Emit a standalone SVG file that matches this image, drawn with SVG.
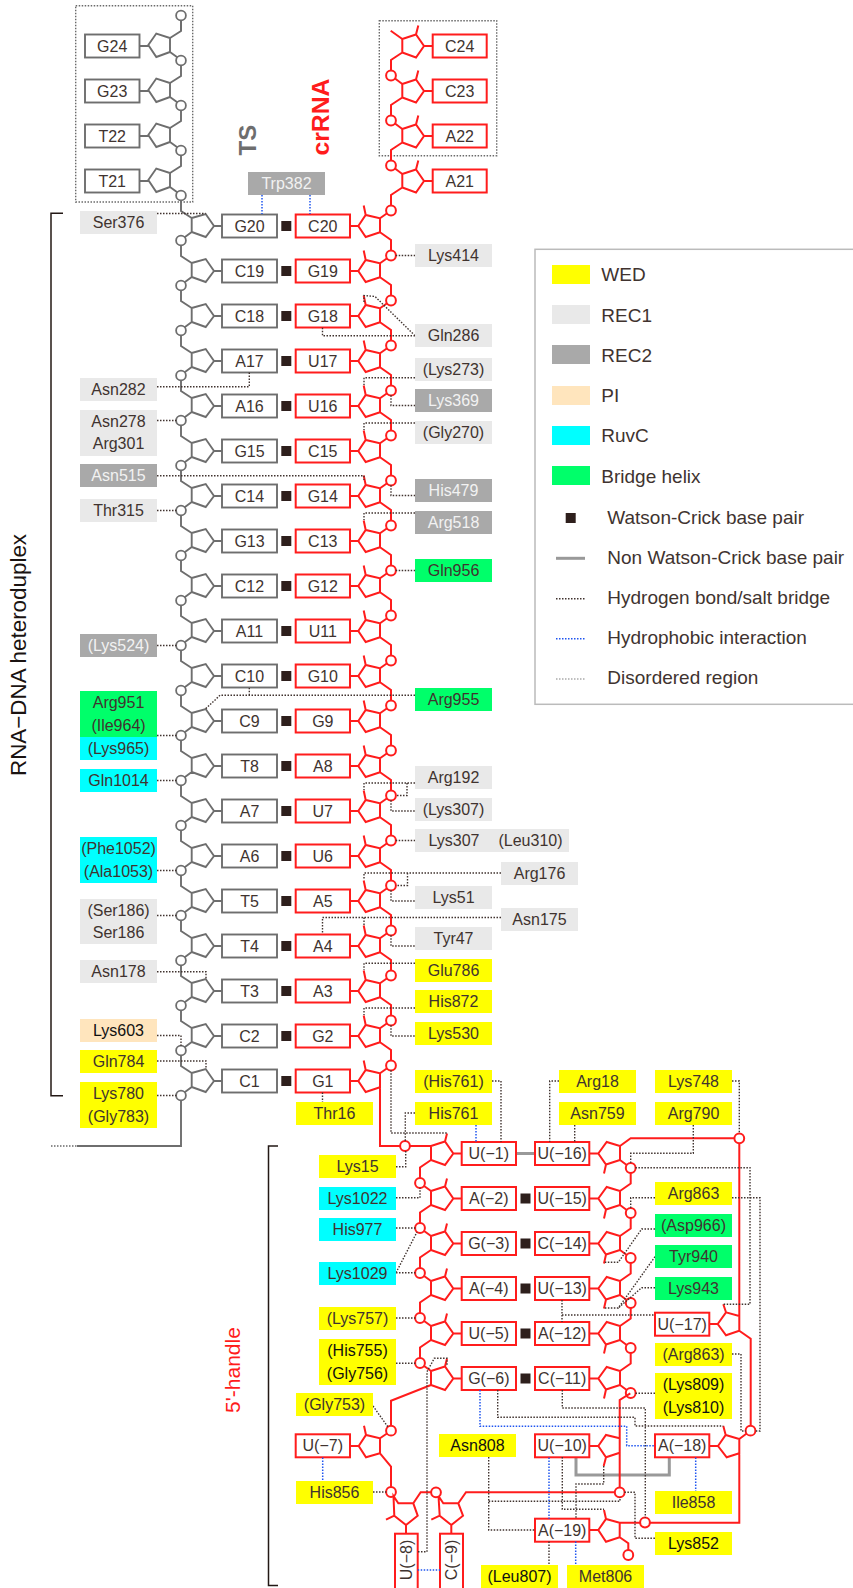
<svg xmlns="http://www.w3.org/2000/svg" width="853" height="1588" viewBox="0 0 853 1588">
<style>
text{font-family:"Liberation Sans",Arial,sans-serif;font-size:16px;fill:#40332f;text-anchor:middle}
.w{fill:#f2f2f2}.k{fill:#111}
.leg{font-size:19px;text-anchor:start}
.g{fill:none;stroke:#6e6e6e;stroke-width:1.9}
.gb{fill:#fff;stroke:#6e6e6e;stroke-width:1.9}
.gc{fill:#fff;stroke:#6e6e6e;stroke-width:1.8;r:4.9px}
.r{fill:none;stroke:#ff1c1c;stroke-width:2}
.rb{fill:#fff;stroke:#ff1c1c;stroke-width:2}
.rc{fill:#fff;stroke:#ff1c1c;stroke-width:2;r:4.9px}
.hb{fill:none;stroke:#40332f;stroke-width:1.4;stroke-dasharray:1.5 1.5}
.hp{fill:none;stroke:#1f55f0;stroke-width:1.5;stroke-dasharray:1.5 1.5}
.dis{fill:none;stroke:#6a6a6a;stroke-width:1.4;stroke-dasharray:1.5 1.5}
.nw{fill:none;stroke:#999;stroke-width:3}
.y{fill:#ffff00}.l{fill:#e9e9e9}.d{fill:#a9a9a9}.p{fill:#ffe5bd}.c{fill:#00ffff}.n{fill:#00ff6a}
</style>
<defs>
<rect id="wc" x="-5" y="-5" width="10" height="10" fill="#2e1f1c"/>
<g id="tsU"><path class="g" d="M214 0H222M191.7 -8L205.7 -12L214 0L205.7 11L191.7 6ZM191.7 -8L181 -15V-25.8M191.7 6L181 14"/><circle class="gc" cx="181" cy="14.5" r="4.7"/><rect class="gb" x="222" y="-11.5" width="55" height="23"/></g>
<g id="tsD"><path class="g" d="M139.5 0H148.3M148.3 -1L156.3 -12.5L170 -8V6L156.3 11ZM170 -8L181 -15V-25.8M170 6L181 14"/><circle class="gc" cx="181" cy="14.5" r="4.7"/><rect class="gb" x="85" y="-11.5" width="54.5" height="23"/></g>
<g id="crD"><path class="r" d="M424 0H432.7M402.3 -7L416 -11.5L424 0L416 11.5L402.3 6.5ZM416 -11.5L418.3 -20.5M402.3 6.5L391 14V25.3"/><rect class="rb" x="432.7" y="-11.5" width="54" height="23"/></g>
<g id="crU"><path class="r" d="M350 0H358.3M358.3 0L365.7 -11L380 -7.7V6.3L365.7 11ZM365.7 -11L363.7 -20.5M380 -7.7L391 -15.5M380 6.3L391 14V25"/><circle class="rc" cx="391" cy="-15.5" r="4.7"/><rect class="rb" x="295.7" y="-11.5" width="54.3" height="23"/></g>
<g id="h5"><path class="r" d="M453.3 0H461.7M431 -7.5L445 -12L453.3 0L445 11.5L431 6.5ZM445 -12L447 -20"/><rect class="rb" x="461.7" y="-11.5" width="54.3" height="23"/></g>
<g id="h5c"><use href="#h5"/><path class="r" d="M431 -7.5L420 -15.5"/><circle class="rc" cx="420" cy="-15.5" r="4.7"/></g>
<g id="h3"><path class="r" d="M589.3 0H598.3M598.3 0L606.7 -11.5L620 -7.5V6.5L606 11ZM606 11L604 20M620 6.5L630.7 14.5"/><circle class="rc" cx="630.7" cy="14.5" r="4.7"/><rect class="rb" x="535" y="-11.5" width="54.3" height="23"/></g>
</defs>

<g id="frames">
<rect class="dis" x="75.7" y="5.7" width="117" height="196.3"/>
<rect class="dis" x="379.3" y="20.7" width="117.4" height="135"/>
</g>

<g id="ts-strand">
<g id="TS-G24" transform="translate(0 46)"><path class="g" d="M181 -25.8V-15"/><circle class="gc" cx="181" cy="-30.5" r="4.7"/><use href="#tsD"/><text x="112.2" y="5.5">G24</text></g>
<g id="TS-G23" transform="translate(0 91)"><use href="#tsD"/><text x="112.2" y="5.5">G23</text></g>
<g id="TS-T22" transform="translate(0 136)"><use href="#tsD"/><text x="112.2" y="5.5">T22</text></g>
<g id="TS-T21" transform="translate(0 181)"><use href="#tsD"/><text x="112.2" y="5.5">T21</text></g>
<g id="TS-G20" transform="translate(0 226)"><use href="#tsU"/><text x="249.5" y="5.5">G20</text></g>
<g id="TS-C19" transform="translate(0 271)"><use href="#tsU"/><text x="249.5" y="5.5">C19</text></g>
<g id="TS-C18" transform="translate(0 316)"><use href="#tsU"/><text x="249.5" y="5.5">C18</text></g>
<g id="TS-A17" transform="translate(0 361)"><use href="#tsU"/><text x="249.5" y="5.5">A17</text></g>
<g id="TS-A16" transform="translate(0 406)"><use href="#tsU"/><text x="249.5" y="5.5">A16</text></g>
<g id="TS-G15" transform="translate(0 451)"><use href="#tsU"/><text x="249.5" y="5.5">G15</text></g>
<g id="TS-C14" transform="translate(0 496)"><use href="#tsU"/><text x="249.5" y="5.5">C14</text></g>
<g id="TS-G13" transform="translate(0 541)"><use href="#tsU"/><text x="249.5" y="5.5">G13</text></g>
<g id="TS-C12" transform="translate(0 586)"><use href="#tsU"/><text x="249.5" y="5.5">C12</text></g>
<g id="TS-A11" transform="translate(0 631)"><use href="#tsU"/><text x="249.5" y="5.5">A11</text></g>
<g id="TS-C10" transform="translate(0 676)"><use href="#tsU"/><text x="249.5" y="5.5">C10</text></g>
<g id="TS-C9" transform="translate(0 721)"><use href="#tsU"/><text x="249.5" y="5.5">C9</text></g>
<g id="TS-T8" transform="translate(0 766)"><use href="#tsU"/><text x="249.5" y="5.5">T8</text></g>
<g id="TS-A7" transform="translate(0 811)"><use href="#tsU"/><text x="249.5" y="5.5">A7</text></g>
<g id="TS-A6" transform="translate(0 856)"><use href="#tsU"/><text x="249.5" y="5.5">A6</text></g>
<g id="TS-T5" transform="translate(0 901)"><use href="#tsU"/><text x="249.5" y="5.5">T5</text></g>
<g id="TS-T4" transform="translate(0 946)"><use href="#tsU"/><text x="249.5" y="5.5">T4</text></g>
<g id="TS-T3" transform="translate(0 991)"><use href="#tsU"/><text x="249.5" y="5.5">T3</text></g>
<g id="TS-C2" transform="translate(0 1036)"><use href="#tsU"/><text x="249.5" y="5.5">C2</text></g>
<g id="TS-C1" transform="translate(0 1081)"><use href="#tsU"/><text x="249.5" y="5.5">C1</text></g>
<path class="g" d="M181 1100.2V1146H77"/>
</g>

<g id="cr-strand">
<g id="CR-C24" transform="translate(0 46)"><use href="#crD"/><path class="r" d="M402.3 -7L390.7 -15.3"/><text x="459.7" y="5.5">C24</text></g>
<g id="CR-C23" transform="translate(0 91)"><use href="#crD"/><path class="r" d="M402.3 -7L391 -15.5"/><circle class="rc" cx="391" cy="-15.5" r="4.7"/><text x="459.7" y="5.5">C23</text></g>
<g id="CR-A22" transform="translate(0 136)"><use href="#crD"/><path class="r" d="M402.3 -7L391 -15.5"/><circle class="rc" cx="391" cy="-15.5" r="4.7"/><text x="459.7" y="5.5">A22</text></g>
<g id="CR-A21" transform="translate(0 181)"><use href="#crD"/><path class="r" d="M402.3 -7L391 -15.5"/><circle class="rc" cx="391" cy="-15.5" r="4.7"/><text x="459.7" y="5.5">A21</text></g>
<g id="CR-C20" transform="translate(0 226)"><use href="#crU"/><text x="322.8" y="5.5">C20</text></g>
<g id="CR-G19" transform="translate(0 271)"><use href="#crU"/><text x="322.8" y="5.5">G19</text></g>
<g id="CR-G18" transform="translate(0 316)"><use href="#crU"/><text x="322.8" y="5.5">G18</text></g>
<g id="CR-U17" transform="translate(0 361)"><use href="#crU"/><text x="322.8" y="5.5">U17</text></g>
<g id="CR-U16" transform="translate(0 406)"><use href="#crU"/><text x="322.8" y="5.5">U16</text></g>
<g id="CR-C15" transform="translate(0 451)"><use href="#crU"/><text x="322.8" y="5.5">C15</text></g>
<g id="CR-G14" transform="translate(0 496)"><use href="#crU"/><text x="322.8" y="5.5">G14</text></g>
<g id="CR-C13" transform="translate(0 541)"><use href="#crU"/><text x="322.8" y="5.5">C13</text></g>
<g id="CR-G12" transform="translate(0 586)"><use href="#crU"/><text x="322.8" y="5.5">G12</text></g>
<g id="CR-U11" transform="translate(0 631)"><use href="#crU"/><text x="322.8" y="5.5">U11</text></g>
<g id="CR-G10" transform="translate(0 676)"><use href="#crU"/><text x="322.8" y="5.5">G10</text></g>
<g id="CR-G9" transform="translate(0 721)"><use href="#crU"/><text x="322.8" y="5.5">G9</text></g>
<g id="CR-A8" transform="translate(0 766)"><use href="#crU"/><text x="322.8" y="5.5">A8</text></g>
<g id="CR-U7" transform="translate(0 811)"><use href="#crU"/><text x="322.8" y="5.5">U7</text></g>
<g id="CR-U6" transform="translate(0 856)"><use href="#crU"/><text x="322.8" y="5.5">U6</text></g>
<g id="CR-A5" transform="translate(0 901)"><use href="#crU"/><text x="322.8" y="5.5">A5</text></g>
<g id="CR-A4" transform="translate(0 946)"><use href="#crU"/><text x="322.8" y="5.5">A4</text></g>
<g id="CR-A3" transform="translate(0 991)"><use href="#crU"/><text x="322.8" y="5.5">A3</text></g>
<g id="CR-G2" transform="translate(0 1036)"><use href="#crU"/><text x="322.8" y="5.5">G2</text></g>
<g id="CR-G1" transform="translate(0 1081)">
<path class="r" d="M350 0H358.3M358.3 0L365.7 -11L380 -7.7V6.3L365.7 11ZM365.7 -11L363.7 -20.5M380 -7.7L391 -15.5M380 6.3V65H431"/><circle class="rc" cx="391" cy="-15.5" r="4.7"/><rect class="rb" x="295.7" y="-11.5" width="54.3" height="23"/><text x="322.8" y="5.5">G1</text></g>
</g>

<g id="pairs">
<use href="#wc" x="286.3" y="226"/><use href="#wc" x="286.3" y="271"/><use href="#wc" x="286.3" y="316"/><use href="#wc" x="286.3" y="361"/><use href="#wc" x="286.3" y="406"/><use href="#wc" x="286.3" y="451"/><use href="#wc" x="286.3" y="496"/><use href="#wc" x="286.3" y="541"/><use href="#wc" x="286.3" y="586"/><use href="#wc" x="286.3" y="631"/><use href="#wc" x="286.3" y="676"/><use href="#wc" x="286.3" y="721"/><use href="#wc" x="286.3" y="766"/><use href="#wc" x="286.3" y="811"/><use href="#wc" x="286.3" y="856"/><use href="#wc" x="286.3" y="901"/><use href="#wc" x="286.3" y="946"/><use href="#wc" x="286.3" y="991"/><use href="#wc" x="286.3" y="1036"/><use href="#wc" x="286.3" y="1081"/>
<use href="#wc" x="525.5" y="1198.5"/><use href="#wc" x="525.5" y="1243.5"/><use href="#wc" x="525.5" y="1288.5"/><use href="#wc" x="525.5" y="1333.5"/><use href="#wc" x="525.5" y="1378.5"/>
<path class="nw" d="M516 1153.5H535"/>
<path class="nw" d="M576 1457.5V1475H669.3V1457.5"/>
</g>

<g id="handle">
<g id="H-U1" transform="translate(0 1153.5)"><use href="#h5"/><path class="r" d="M431 6.5L420 14V24.8"/><text x="488.8" y="5.5">U(−1)</text></g>
<circle class="rc" cx="405" cy="1146" r="4.7"/>
<g id="H-A2" transform="translate(0 1198.5)"><use href="#h5c"/><path class="r" d="M431 6.5L420 14V24.8"/><text x="488.8" y="5.5">A(−2)</text></g>
<g id="H-G3" transform="translate(0 1243.5)"><use href="#h5c"/><path class="r" d="M431 6.5L420 14V24.8"/><text x="488.8" y="5.5">G(−3)</text></g>
<g id="H-A4" transform="translate(0 1288.5)"><use href="#h5c"/><path class="r" d="M431 6.5L420 14V24.8"/><text x="488.8" y="5.5">A(−4)</text></g>
<g id="H-U5" transform="translate(0 1333.5)"><use href="#h5c"/><path class="r" d="M431 6.5L420 14V24.8"/><text x="488.8" y="5.5">U(−5)</text></g>
<g id="H-G6" transform="translate(0 1378.5)"><use href="#h5c"/><path class="r" d="M431 6.5L391 22.2V47.5"/><text x="488.8" y="5.5">G(−6)</text></g>
<g id="H-U7">
<path class="r" d="M350 1446H358.7M358.7 1446L366 1435L380 1438.3V1453.3L366 1457.3ZM366 1435L364 1425.7M380 1438.3L391 1430.7M380 1453.3L391 1466.7V1487.3"/>
<circle class="rc" cx="391" cy="1430.7" r="4.7"/><circle class="rc" cx="391" cy="1492" r="4.7"/>
<rect class="rb" x="295.7" y="1434.3" width="54.3" height="23"/><text x="322.8" y="1451.3">U(−7)</text></g>
<g id="H-U8">
<path class="r" d="M393.5 1496L398.3 1503.3H413.3L417.7 1515.7L406 1525L394.3 1515.7ZM394.3 1515.7L386 1519.7M406 1525V1533.7M413.3 1503.3L420.7 1492.3H431"/>
<rect class="rb" x="395" y="1533.7" width="22.7" height="60"/><text transform="translate(411.8 1560) rotate(-90)">U(−8)</text></g>
<g id="H-C9">
<path class="r" d="M438.5 1496L443.3 1503.3H458.3L463 1515.7L451.3 1525L439.7 1515.7ZM439.7 1515.7L431.3 1519.7M451.3 1525V1533.7M458.3 1503.3L466 1492.3H615"/>
<circle class="rc" cx="436" cy="1492.3" r="4.7"/>
<rect class="rb" x="440" y="1533.7" width="23" height="60"/><text transform="translate(457 1560) rotate(-90)">C(−9)</text></g>
<g id="H-U16" transform="translate(0 1153.5)"><use href="#h3"/><path class="r" d="M620 -7.5L630.7 -15.2H734.6"/><text x="562.2" y="5.5">U(−16)</text></g>
<g id="H-U15" transform="translate(0 1198.5)"><use href="#h3"/><path class="r" d="M620 -7.5L630.7 -15V-25.8"/><text x="562.2" y="5.5">U(−15)</text></g>
<g id="H-C14" transform="translate(0 1243.5)"><use href="#h3"/><path class="r" d="M620 -7.5L630.7 -15V-25.8"/><text x="562.2" y="5.5">C(−14)</text></g>
<g id="H-U13" transform="translate(0 1288.5)"><use href="#h3"/><path class="r" d="M620 -7.5L630.7 -15V-25.8"/><text x="562.2" y="5.5">U(−13)</text></g>
<g id="H-A12" transform="translate(0 1333.5)"><use href="#h3"/><path class="r" d="M620 -7.5L630.7 -15V-25.8"/><text x="562.2" y="5.5">A(−12)</text></g>
<g id="H-C11" transform="translate(0 1378.5)"><use href="#h3"/><path class="r" d="M620 -7.5L630.7 -15V-25.8"/><text x="562.2" y="5.5">C(−11)</text></g>
<g id="H-U10">
<path class="r" d="M589.3 1446H598.3M598.3 1446L606 1435L619.7 1438.3M619.7 1452.7L606 1457.3L598.3 1446M606 1457.3L603.7 1466M630.3 1393.3L619.7 1400V1487.6"/>
<circle class="rc" cx="619.7" cy="1492.3" r="4.7"/>
<rect class="rb" x="535" y="1434.3" width="54.3" height="23"/><text x="562.2" y="1451.3">U(−10)</text></g>
<g id="H-U17">
<path class="r" d="M709.3 1324H717.7M717.7 1324L726 1312.3L739.3 1316V1330.7L726 1335.3ZM726 1312.3L723.3 1304.3M739.3 1143V1330.7L750.7 1338.7V1426"/>
<circle class="rc" cx="739.3" cy="1138.3" r="4.7"/>
<rect class="rb" x="655" y="1312.7" width="54.3" height="23"/><text x="682.2" y="1329.5">U(−17)</text></g>
<g id="H-A18">
<path class="r" d="M709.3 1446H718M718 1446L725.7 1435L739.3 1439V1453.3L726.7 1457.3ZM725.7 1435L723.3 1426M739.3 1439L750.3 1430.7M739.3 1453.3V1522.7H649.7"/>
<circle class="rc" cx="750.5" cy="1430.7" r="4.7"/>
<rect class="rb" x="655" y="1434.3" width="54.3" height="23"/><text x="682.2" y="1451.3">A(−18)</text></g>
<g id="H-A19">
<path class="r" d="M589.3 1530H598.3M598.3 1530L606 1519L619.7 1522.7V1537.3L606 1541.7ZM606 1519L604 1510M619.7 1522.7H640.3M619.7 1537.3L628.3 1543.3V1550.3"/>
<circle class="rc" cx="645" cy="1522.5" r="4.7"/><circle class="rc" cx="628.3" cy="1555" r="4.7"/>
<rect class="rb" x="535" y="1518.7" width="54.3" height="23"/><text x="562.2" y="1535.5">A(−19)</text></g>
</g>

<g id="connectors">
<path class="dis" d="M51 1146H77"/>
<path class="hb" d="M157 213.5H205.7"/>
<path class="hb" d="M157 386.7H249.3V372.5"/>
<path class="hb" d="M157 420.5H176.3"/>
<path class="hb" d="M157 475.7H364V480"/>
<path class="hb" d="M157 510.5H176.3"/>
<path class="hb" d="M157 645.5H176.3"/>
<path class="hb" d="M157 735.5H176.3"/>
<path class="hb" d="M157 780.5H176.3"/>
<path class="hb" d="M157 870.5H176.3"/>
<path class="hb" d="M157 915.5H176.3"/>
<path class="hb" d="M157 971.7H206V979"/>
<path class="hb" d="M157 1035.5H181V1045.8"/>
<path class="hb" d="M157 1061H206V1069"/>
<path class="hb" d="M157 1095.5H176.3"/>
<path class="hb" d="M395.7 255.5H415"/>
<path class="hb" d="M415 335.7H322.5V327.5M415 335.7L375 296.5L364 295.5V303"/>
<path class="hb" d="M415 377.7H364V385"/>
<path class="hb" d="M391 395.2V405.5H415"/>
<path class="hb" d="M415 423H364V430"/>
<path class="hb" d="M391 485.2V495.5H415"/>
<path class="hb" d="M415 513H364V520"/>
<path class="hb" d="M395.7 570.5H415"/>
<path class="hb" d="M415 695.3H220L205.7 708.7M249.3 695.3V688"/>
<path class="hb" d="M415 783H364V790M407 783V795.5H395.7"/>
<path class="hb" d="M391 800.2V811H415"/>
<path class="hb" d="M395.7 840.5H415"/>
<path class="hb" d="M501 873H364V880M407.5 873V885.5H395.7"/>
<path class="hb" d="M391 890.2V901H415"/>
<path class="hb" d="M501 917.5H322.5V934M364 917.5V925"/>
<path class="hb" d="M391 935.2V946H415"/>
<path class="hb" d="M415 963.3H364V970"/>
<path class="hb" d="M415 1008H364V1015"/>
<path class="hb" d="M391 1025.2V1036H415"/>
<path class="hb" d="M322.5 1092.5V1102"/>
<path class="hb" d="M391 1070.2V1133H447"/>
<path class="hb" d="M492 1081H501V1141.7"/>
<path class="hb" d="M415 1113H405.3V1141"/>
<path class="hb" d="M396 1166.7H405.7V1151"/>
<path class="hb" d="M396 1197.7H420V1187.7"/>
<path class="hb" d="M396 1228H415.3"/>
<path class="hb" d="M396 1272.7H415.3M396 1272.7L417 1232"/>
<path class="hb" d="M396 1318H415.3"/>
<path class="hb" d="M396 1363.3H415.3"/>
<path class="hb" d="M373 1406L388 1427"/>
<path class="hb" d="M373 1492H386.3"/>
<path class="hb" d="M418 1551.7H427V1371.7L434.3 1358.3H447V1366"/>
<path class="hb" d="M497.7 1390V1417.3H635V1426H723.3"/>
<path class="hb" d="M562.3 1390V1408H645.3V1517.8"/>
<path class="hb" d="M488.7 1457V1530H535M488.7 1501.3H620V1497"/>
<path class="hb" d="M562.3 1457V1509.3H604"/>
<path class="hb" d="M603.7 1466V1484H576V1518.7"/>
<path class="hb" d="M549 1541.5V1565"/>
<path class="hb" d="M624.4 1492.3H635V1538.3H655"/>
<path class="hb" d="M559 1081H549.7V1141.7"/>
<path class="hb" d="M574.7 1125V1141.7"/>
<path class="hb" d="M732 1081H739.3V1133.6"/>
<path class="hb" d="M693.3 1125V1153.3H630.7V1162.8"/>
<path class="hb" d="M635.4 1167.7H750V1304.3H723.3"/>
<path class="hb" d="M655 1197.7H630.7V1208"/>
<path class="hb" d="M732 1197.7H760V1431H755.2"/>
<path class="hb" d="M655 1229H641.7L618.3 1262.3H603.3"/>
<path class="hb" d="M655 1256.7L618.3 1308H603.3"/>
<path class="hb" d="M655 1287.7H641.7L618.3 1308"/>
<path class="hb" d="M562 1300V1322M562 1315H655"/>
<path class="hb" d="M732 1354H741V1431H745.8"/>
<path class="hb" d="M655 1393.3H635"/>
<path class="hp" d="M262 195V214M310 195V214"/>
<path class="hp" d="M476 1125V1141.7"/>
<path class="hp" d="M322.7 1457.5V1481"/>
<path class="hp" d="M417.7 1570H440"/>
<path class="hp" d="M480 1390V1426.3H626.7V1445.7H655"/>
<path class="hp" d="M549 1457.5V1518.7"/>
<path class="hp" d="M695.7 1457.5V1491"/>
<path class="hp" d="M575.7 1541.5V1565"/>
</g>

<g id="labels">
<g id="L-Ser376"><rect class="l" x="80" y="211" width="77" height="23"/><text x="118.5" y="228">Ser376</text></g>
<g id="L-Asn282"><rect class="l" x="80" y="378" width="77" height="23"/><text x="118.5" y="395">Asn282</text></g>
<g id="L-Asn278"><rect class="l" x="80" y="410" width="77" height="46"/><text x="118.5" y="427">Asn278</text><text x="118.5" y="449.3">Arg301</text></g>
<g id="L-Asn515"><rect class="d" x="80" y="464" width="77" height="23"/><text class="w" x="118.5" y="481">Asn515</text></g>
<g id="L-Thr315"><rect class="l" x="80" y="499" width="77" height="23"/><text x="118.5" y="516">Thr315</text></g>
<g id="L-Lys524"><rect class="d" x="80" y="634" width="77" height="23"/><text class="w" x="118.5" y="651">(Lys524)</text></g>
<g id="L-Arg951"><rect class="n" x="80" y="691" width="77" height="46"/><text x="118.5" y="708">Arg951</text><text x="118.5" y="731">(Ile964)</text></g>
<g id="L-Lys965"><rect class="c" x="80" y="737" width="77" height="23"/><text x="118.5" y="753.5">(Lys965)</text></g>
<g id="L-Gln1014"><rect class="c" x="80" y="769" width="77" height="23"/><text x="118.5" y="786">Gln1014</text></g>
<g id="L-Phe1052"><rect class="c" x="80" y="837" width="77" height="46"/><text x="118.5" y="854">(Phe1052)</text><text x="118.5" y="877">(Ala1053)</text></g>
<g id="L-Ser186"><rect class="l" x="80" y="899" width="77" height="45"/><text x="118.5" y="916">(Ser186)</text><text x="118.5" y="938">Ser186</text></g>
<g id="L-Asn178"><rect class="l" x="80" y="960" width="77" height="23"/><text x="118.5" y="977">Asn178</text></g>
<g id="L-Lys603"><rect class="p" x="80" y="1019" width="77" height="23"/><text class="k" x="118.5" y="1035.5">Lys603</text></g>
<g id="L-Gln784"><rect class="y" x="80" y="1050" width="77" height="23"/><text x="118.5" y="1067">Gln784</text></g>
<g id="L-Lys780"><rect class="y" x="80" y="1082" width="77" height="46"/><text x="118.5" y="1099">Lys780</text><text x="118.5" y="1122">(Gly783)</text></g>
<g id="L-Trp382"><rect class="d" x="248" y="172" width="77" height="23"/><text class="w" x="286.5" y="189">Trp382</text></g>
<g id="L-Lys414"><rect class="l" x="415" y="244" width="77" height="23"/><text x="453.5" y="261">Lys414</text></g>
<g id="L-Gln286"><rect class="l" x="415" y="324" width="77" height="23"/><text x="453.5" y="341">Gln286</text></g>
<g id="L-Lys273"><rect class="l" x="415" y="358" width="77" height="23"/><text x="453.5" y="375">(Lys273)</text></g>
<g id="L-Lys369"><rect class="d" x="415" y="389" width="77" height="23"/><text class="w" x="453.5" y="406">Lys369</text></g>
<g id="L-Gly270"><rect class="l" x="415" y="421" width="77" height="23"/><text x="453.5" y="438">(Gly270)</text></g>
<g id="L-His479"><rect class="d" x="415" y="479" width="77" height="23"/><text class="w" x="453.5" y="496">His479</text></g>
<g id="L-Arg518"><rect class="d" x="415" y="511" width="77" height="23"/><text class="w" x="453.5" y="528">Arg518</text></g>
<g id="L-Gln956"><rect class="n" x="415" y="559" width="77" height="23"/><text x="453.5" y="576">Gln956</text></g>
<g id="L-Arg955"><rect class="n" x="415" y="688" width="77" height="23"/><text x="453.5" y="705">Arg955</text></g>
<g id="L-Arg192"><rect class="l" x="415" y="766" width="77" height="23"/><text x="453.5" y="783">Arg192</text></g>
<g id="L-Lys307b"><rect class="l" x="415" y="798" width="77" height="23"/><text x="453.5" y="815">(Lys307)</text></g>
<g id="L-Lys307"><rect class="l" x="415" y="829" width="154" height="23"/><text x="454" y="846">Lys307</text><text x="530.5" y="846">(Leu310)</text></g>
<g id="L-Arg176"><rect class="l" x="501" y="862" width="77" height="23"/><text x="539.5" y="879">Arg176</text></g>
<g id="L-Lys51"><rect class="l" x="415" y="886" width="77" height="23"/><text x="453.5" y="903">Lys51</text></g>
<g id="L-Asn175"><rect class="l" x="501" y="908" width="77" height="23"/><text x="539.5" y="925">Asn175</text></g>
<g id="L-Tyr47"><rect class="l" x="415" y="927" width="77" height="23"/><text x="453.5" y="944">Tyr47</text></g>
<g id="L-Glu786"><rect class="y" x="415" y="959" width="77" height="23"/><text x="453.5" y="976">Glu786</text></g>
<g id="L-His872"><rect class="y" x="415" y="990" width="77" height="23"/><text x="453.5" y="1007">His872</text></g>
<g id="L-Lys530"><rect class="y" x="415" y="1022" width="77" height="23"/><text x="453.5" y="1039">Lys530</text></g>
<g id="L-Thr16"><rect class="y" x="296" y="1102" width="77" height="23"/><text x="334.5" y="1119">Thr16</text></g>
<g id="L-His761b"><rect class="y" x="415" y="1070" width="77" height="23"/><text x="453.5" y="1087">(His761)</text></g>
<g id="L-His761"><rect class="y" x="415" y="1102" width="77" height="23"/><text x="453.5" y="1119">His761</text></g>
<g id="L-Arg18"><rect class="y" x="559" y="1070" width="77" height="23"/><text x="597.5" y="1087">Arg18</text></g>
<g id="L-Asn759"><rect class="y" x="559" y="1102" width="77" height="23"/><text x="597.5" y="1119">Asn759</text></g>
<g id="L-Lys748"><rect class="y" x="655" y="1070" width="77" height="23"/><text x="693.5" y="1087">Lys748</text></g>
<g id="L-Arg790"><rect class="y" x="655" y="1102" width="77" height="23"/><text x="693.5" y="1119">Arg790</text></g>
<g id="L-Lys15"><rect class="y" x="319" y="1155" width="77" height="23"/><text x="357.5" y="1172">Lys15</text></g>
<g id="L-Lys1022"><rect class="c" x="319" y="1187" width="77" height="23"/><text x="357.5" y="1204">Lys1022</text></g>
<g id="L-His977"><rect class="c" x="319" y="1218" width="77" height="23"/><text x="357.5" y="1235">His977</text></g>
<g id="L-Lys1029"><rect class="c" x="319" y="1262" width="77" height="23"/><text x="357.5" y="1279">Lys1029</text></g>
<g id="L-Lys757"><rect class="y" x="319" y="1307" width="77" height="23"/><text x="357.5" y="1324">(Lys757)</text></g>
<g id="L-His755"><rect class="y" x="319" y="1339" width="77" height="46"/><text class="k" x="357.5" y="1356">(His755)</text><text class="k" x="357.5" y="1379">(Gly756)</text></g>
<g id="L-Gly753"><rect class="y" x="296" y="1393" width="77" height="23"/><text x="334.5" y="1410">(Gly753)</text></g>
<g id="L-His856"><rect class="y" x="296" y="1481" width="77" height="23"/><text x="334.5" y="1498">His856</text></g>
<g id="L-Asn808"><rect class="y" x="439" y="1434" width="77" height="23"/><text class="k" x="477.5" y="1451">Asn808</text></g>
<g id="L-Leu807"><rect class="y" x="481" y="1565" width="77" height="23"/><text class="k" x="519.5" y="1582">(Leu807)</text></g>
<g id="L-Met806"><rect class="y" x="567" y="1565" width="77" height="23"/><text x="605.5" y="1582">Met806</text></g>
<g id="L-Lys852"><rect class="y" x="655" y="1532" width="77" height="23"/><text class="k" x="693.5" y="1549">Lys852</text></g>
<g id="L-Ile858"><rect class="y" x="655" y="1491" width="77" height="23"/><text x="693.5" y="1508">Ile858</text></g>
<g id="L-Lys809"><rect class="y" x="655" y="1373" width="77" height="46"/><text class="k" x="693.5" y="1390">(Lys809)</text><text class="k" x="693.5" y="1413">(Lys810)</text></g>
<g id="L-Arg863b"><rect class="y" x="655" y="1343" width="77" height="23"/><text x="693.5" y="1360">(Arg863)</text></g>
<g id="L-Lys943"><rect class="n" x="655" y="1277" width="77" height="23"/><text x="693.5" y="1294">Lys943</text></g>
<g id="L-Tyr940"><rect class="n" x="655" y="1245" width="77" height="23"/><text x="693.5" y="1262">Tyr940</text></g>
<g id="L-Asp966"><rect class="n" x="655" y="1214" width="77" height="23"/><text x="693.5" y="1231">(Asp966)</text></g>
<g id="L-Arg863"><rect class="y" x="655" y="1182" width="77" height="23"/><text x="693.5" y="1199">Arg863</text></g>
</g>

<g id="titles">
<text transform="translate(256 155.5) rotate(-90)" style="font-size:24px;font-weight:bold;fill:#6e6e6e;text-anchor:start">TS</text>
<text transform="translate(329 155.5) rotate(-90)" style="font-size:24.7px;font-weight:bold;fill:#ff1c1c;text-anchor:start">crRNA</text>
<text transform="translate(25.5 655) rotate(-90)" style="font-size:22.4px;fill:#1a1311">RNA−DNA heteroduplex</text>
<text transform="translate(240 1370) rotate(-90)" style="font-size:21px;fill:#ff1c1c">5'-handle</text>
<path d="M63 213.3H51V1095.7H63" fill="none" stroke="#231815" stroke-width="1.5"/>
<path d="M278 1146H268.5V1585.5H278" fill="none" stroke="#231815" stroke-width="1.5"/>
</g>

<g id="legend">
<rect x="535" y="249.3" width="330" height="455" fill="#fff" stroke="#bbb" stroke-width="1.5"/>
<rect class="y" x="552" y="265" width="38" height="19"/><text class="leg" x="601.3" y="281">WED</text>
<rect class="l" x="552" y="305" width="38" height="19"/><text class="leg" x="601.3" y="321.5">REC1</text>
<rect class="d" x="552" y="345" width="38" height="19"/><text class="leg" x="601.3" y="362">REC2</text>
<rect class="p" x="552" y="386" width="38" height="19"/><text class="leg" x="601.3" y="402">PI</text>
<rect class="c" x="552" y="426" width="38" height="19"/><text class="leg" x="601.3" y="442">RuvC</text>
<rect class="n" x="552" y="466" width="38" height="19"/><text class="leg" x="601.3" y="482.5">Bridge helix</text>
<use href="#wc" x="570.7" y="518"/><text class="leg" x="607.3" y="523.5">Watson-Crick base pair</text>
<path class="nw" d="M556 558.3H585"/><text class="leg" x="607.3" y="563.5">Non Watson-Crick base pair</text>
<path class="hb" d="M556 598.7H585"/><text class="leg" x="607.3" y="604">Hydrogen bond/salt bridge</text>
<path class="hp" d="M556 638.7H585"/><text class="leg" x="607.3" y="644">Hydrophobic interaction</text>
<path class="dis" d="M556 679H585" style="stroke:#aaa"/><text class="leg" x="607.3" y="684">Disordered region</text>
</g>
</svg>
